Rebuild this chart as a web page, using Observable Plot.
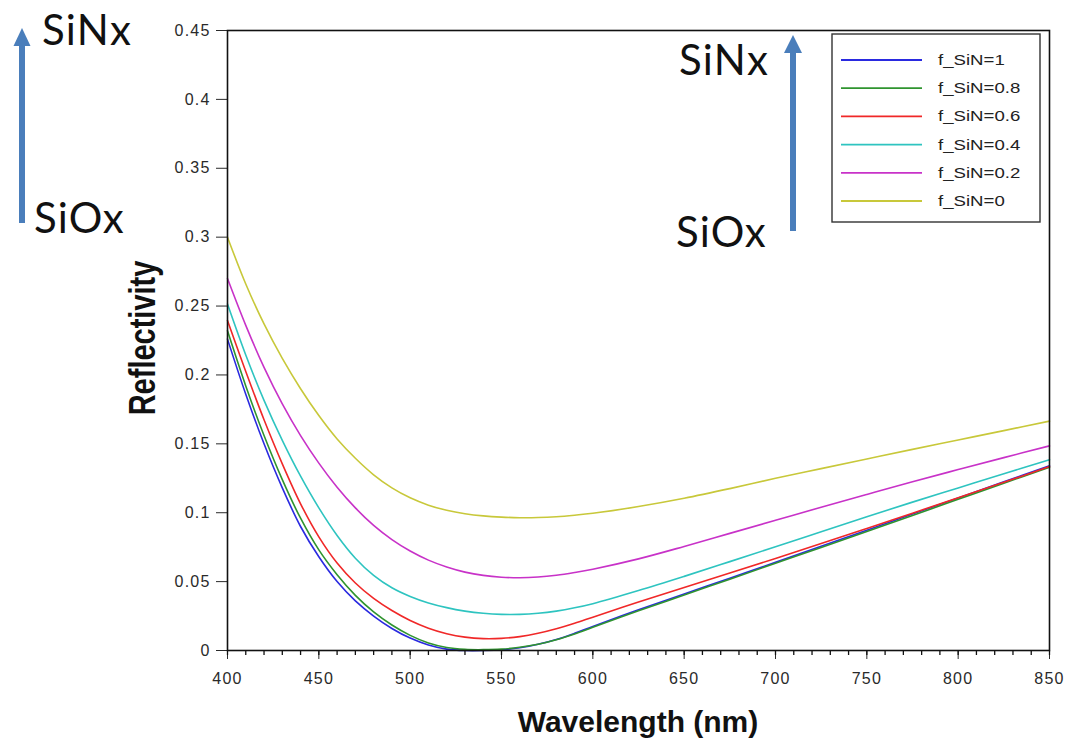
<!DOCTYPE html>
<html><head><meta charset="utf-8">
<script src="https://cdn.jsdelivr.net/npm/d3@7"></script>
<script src="https://cdn.jsdelivr.net/npm/@observablehq/plot@0.6"></script>
<style>
body{margin:0;background:#fff;}
#wrap{position:relative;width:1079px;height:743px;overflow:hidden;background:#fff;}
#wrap svg{position:absolute;left:0;top:0;}
</style></head><body><div id="wrap"></div>
<script>
// ---- data ----
const wavelength = [400,410,420,430,440,450,460,470,480,490,500,510,520,530,540,550,560,570,580,590,600,625,650,675,700,725,750,775,800,825,850];
const seriesNames = ["f_SiN=1","f_SiN=0.8","f_SiN=0.6","f_SiN=0.4","f_SiN=0.2","f_SiN=0"];
const seriesColors = ["#2a2ae0","#2f942f","#f02828","#2ec4c0","#c832c8","#c8c83a"];
const R_fSiN_1   = [.226,.186,.150,.118,.090,.068,.050,.036,.025,.016,.009,.004,.001,0,0,.0005,.002,.0045,.008,.0125,.0175,.0295,.041,.0525,.064,.0756,.0872,.099,.1107,.1224,.134];
const R_fSiN_0_8 = [.232,.192,.156,.124,.096,.073,.055,.040,.028,.0185,.011,.0055,.0022,.0008,.0006,.001,.0023,.0045,.0078,.012,.0168,.0288,.0403,.0518,.0633,.0748,.0864,.098,.1097,.1214,.133];
const R_fSiN_0_6 = [.2395,.2025,.1675,.1355,.1065,.0825,.0635,.049,.0378,.029,.0218,.0162,.0122,.0097,.0086,.0088,.0101,.0125,.0158,.0198,.0242,.0352,.0458,.0562,.0668,.0776,.0886,.0997,.1108,.1221,.1335];
const R_fSiN_0_4 = [.2515,.2145,.1815,.1525,.1265,.1035,.0835,.067,.0545,.0455,.0392,.0345,.0311,.0286,.027,.0262,.0262,.027,.0286,.031,.034,.0435,.0538,.0645,.0753,.0862,.0971,.1077,.118,.1283,.1385];
const R_fSiN_0_2 = [.270,.236,.2055,.179,.156,.136,.1185,.1035,.0908,.0805,.0722,.0656,.0606,.0569,.0545,.0532,.0528,.0533,.0546,.0566,.059,.0665,.0755,.085,.0945,.104,.1133,.1225,.1313,.14,.1485];
const R_fSiN_0   = [.300,.266,.237,.212,.190,.1705,.1535,.1395,.1275,.118,.1108,.1055,.1018,.0993,.0977,.0968,.0964,.0965,.0971,.0982,.0996,.1045,.1105,.1175,.125,.132,.139,.146,.1528,.1596,.1665];
const seriesValues = [R_fSiN_1,R_fSiN_0_8,R_fSiN_0_6,R_fSiN_0_4,R_fSiN_0_2,R_fSiN_0];
const xTicks = [400,450,500,550,600,650,700,750,800,850];
const xMinorTicks = d3.range(400, 851, 10);
const yTicks = [0,0.05,0.1,0.15,0.2,0.25,0.3,0.35,0.4,0.45];
const yTickLabels = ["0","0.05","0.1","0.15","0.2","0.25","0.3","0.35","0.4","0.45"];
const xTitle = "Wavelength (nm)";
const yTitle = "Reflectivity";
const annotTop = "SiNx", annotBottom = "SiOx";

const table = seriesNames.flatMap((s,i) => wavelength.map((w,j) => ({series: s, wl: w, R: seriesValues[i][j]})));

const tickDown = {draw(ctx){ ctx.moveTo(0,0); ctx.lineTo(0,4.5); }};

const chart = Plot.plot({
  width: 1079, height: 743,
  marginLeft: 227, marginRight: 30, marginTop: 30, marginBottom: 93,
  style: {fontFamily: "'Liberation Sans', Arial, sans-serif", fontSize: "16px", letterSpacing: "1.2px", color: "#2a2a2a", background: "transparent", overflow: "visible"},
  x: {domain: [400, 850], ticks: xTicks, tickSize: 9, tickPadding: 13, label: null},
  y: {domain: [0, 0.45], ticks: yTicks, tickSize: 11, tickPadding: 6, label: null,
      tickFormat: d => yTickLabels[yTicks.findIndex(t => Math.abs(t - d) < 1e-9)]},
  color: {domain: seriesNames, range: seriesColors},
  marks: [
    Plot.line(table, {x: "wl", y: "R", z: "series", stroke: "series", strokeWidth: 1.6, curve: "catmull-rom"}),
    Plot.dot(xMinorTicks, {x: d => d, frameAnchor: "bottom", symbol: tickDown, r: 3, stroke: "#111", strokeWidth: 1.3, fill: "none"}),
    Plot.frame({stroke: "#111", strokeWidth: 1.6})
  ]
});
document.getElementById("wrap").appendChild(chart);
d3.select(chart).selectAll("g[aria-label='x-axis'] line, g[aria-label='y-axis'] line, g[aria-label$='axis'] path").attr("stroke", "#111").attr("stroke-width", 1.3);

// ---- overlay: titles, legend, annotations ----
const ov = d3.select("#wrap").append("svg").attr("width", 1079).attr("height", 743);
ov.append("text").attr("x", 638).attr("y", 732).attr("text-anchor", "middle")
  .attr("font-family", "'Liberation Sans', Arial, sans-serif").attr("font-weight", "bold").attr("font-size", 30).attr("fill", "#111").text(xTitle);
ov.append("text").attr("transform", "translate(155,338) rotate(-90) scale(1,1.25)").attr("text-anchor", "middle")
  .attr("font-family", "'Liberation Sans', Arial, sans-serif").attr("font-weight", "bold").attr("font-size", 29).attr("fill", "#111").text(yTitle);

const lg = ov.append("g");
lg.append("rect").attr("x", 832).attr("y", 34).attr("width", 208).attr("height", 188).attr("fill", "#fff").attr("stroke", "#333").attr("stroke-width", 1.4);
seriesNames.forEach((s, i) => {
  const y = 60 + i * 28.2;
  lg.append("line").attr("x1", 841).attr("x2", 922).attr("y1", y).attr("y2", y).attr("stroke", seriesColors[i]).attr("stroke-width", 1.8);
  lg.append("text").attr("transform", `translate(938,${y + 5}) scale(1.33,1)`)
    .attr("font-family", "'Liberation Sans', Arial, sans-serif").attr("font-size", 14).attr("fill", "#222").text(s);
});

const arrowColor = "#4a7ebb";
function arrow(x, yBottom, yTip, headW, headH) {
  ov.append("rect").attr("x", x - 3).attr("y", yTip + headH - 1).attr("width", 6).attr("height", yBottom - yTip - headH + 1).attr("fill", arrowColor);
  ov.append("path").attr("d", `M${x},${yTip} L${x - headW / 2},${yTip + headH} L${x + headW / 2},${yTip + headH} Z`).attr("fill", arrowColor);
}
arrow(22, 223, 28, 17, 18);
arrow(793, 231, 35, 18, 18);
function label(x, y, t) {
  ov.append("text").attr("x", x).attr("y", y).attr("font-family", "Lato, 'Open Sans', sans-serif").attr("font-size", 42).attr("letter-spacing", "1.2px").attr("fill", "#111").text(t);
}
label(42, 45, annotTop);
label(34, 233, annotBottom);
label(679, 75, annotTop);
label(676, 247, annotBottom);
</script></body></html>
